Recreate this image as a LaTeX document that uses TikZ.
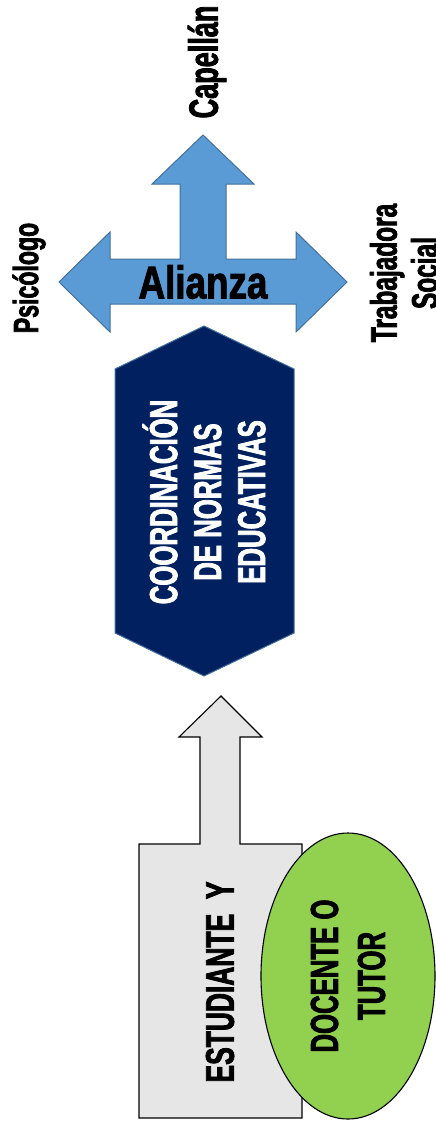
\documentclass[tikz,border=0pt]{standalone}
\usepackage{fontspec}
\setmainfont{Liberation Sans}
\newfontfamily\heavyfont{Liberation Sans Bold}[FakeStretch=0.66, FakeBold=2]
\newfontfamily\widefont{Liberation Sans Bold}[FakeStretch=0.80, FakeBold=2]
\usepackage{tikz}
\usetikzlibrary{shapes.geometric}
\definecolor{allyblue}{HTML}{5B9BD5}
\definecolor{allyedge}{HTML}{41719C}
\definecolor{coordnavy}{HTML}{002060}
\definecolor{studentgray}{HTML}{E7E6E6}
\definecolor{tutorgreen}{HTML}{92D050}

\begin{document}
\begin{tikzpicture}[
  x=1pt, y=-1pt,
  role/.style     = {rotate=90, align=center, inner sep=0pt},
  bluearrow/.style = {fill=allyblue, draw=allyedge, line width=1pt, line join=miter},
  grayarrow/.style = {fill=studentgray, draw=black, line width=1.1pt},
  hexbox/.style   = {fill=coordnavy, draw=allyedge, line width=1pt},
]
\useasboundingbox (0,0) rectangle (436,1125);

% Shapes
\draw[bluearrow] (203,135) -- (254,184) -- (226,184) -- (226,259) -- (296,259)
  -- (296,232) -- (347,282) -- (296,332) -- (296,304) -- (110,304) -- (110,332)
  -- (59,282) -- (110,232) -- (110,259) -- (180,259) -- (180,184) -- (152,184) -- cycle;
\draw[hexbox] (204,326) -- (294,369) -- (294,633) -- (204,676) -- (115,633)
  -- (115,369) -- cycle;
\draw[grayarrow] (221,696) -- (262,737) -- (240,737) -- (240,844) -- (302,844)
  -- (302,1118) -- (139,1118) -- (139,844) -- (200,844) -- (200,737)
  -- (179,737) -- cycle;

% Nodes
\node[font=\widefont\fontsize{46}{50}\selectfont, inner sep=0pt] (alianza) at (203,282) {Alianza};
\node[role, font=\heavyfont\fontsize{41}{46}\selectfont] (capellan) at (207,62) {Capellán};
\node[role, font=\heavyfont\fontsize{35}{40}\selectfont] (psicologo) at (29,278) {Psicólogo};
\node[role, font=\heavyfont\fontsize{37}{41}\selectfont] (trabajadora) at (404,273) {Trabajadora\\Social};
\node[role, text=white, font=\heavyfont\fontsize{39}{44}\selectfont] (coordinacion) at (204,502)
  {COORDINACIÓN\\DE NORMAS\\EDUCATIVAS};
\node[role, font=\heavyfont\fontsize{40}{44}\selectfont] (estudiante) at (220,982) {ESTUDIANTE~ Y};
\node[role, ellipse, fill=tutorgreen, draw=black, line width=1.1pt,
      minimum width=286pt, minimum height=174pt,
      font=\heavyfont\fontsize{39}{47}\selectfont] (docente) at (348,976) {DOCENTE O\\TUTOR};
\end{tikzpicture}
\end{document}
